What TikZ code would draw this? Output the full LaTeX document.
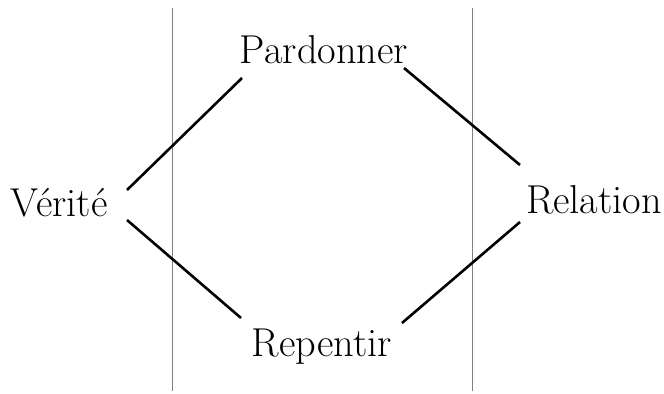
\documentclass[tikz,border=0pt]{standalone}
\begin{document}
\begin{tikzpicture}[x=1bp,y=-1bp,
  word/.style={anchor=base,inner sep=0pt,font=\fontsize{40.5}{44}\selectfont},
  link/.style={line width=2.6bp,black},
  divider/.style={line width=0.8bp,gray}]
\useasboundingbox[fill=white] (0,0) rectangle (664,393);
\draw[divider] (172,8) -- (172,391);
\draw[divider] (472,8) -- (472,391);
\node[word] (pardonner) at (324,63) {Pardonner};
\node[word] (verite) at (59,216) {Vérité};
\node[word] (relation) at (594,213) {Relation};
\node[word] (repentir) at (322,356) {Repentir};
\draw[link] ([shift={(68,-26)}]verite.base) -- ([shift={(-82,15)}]pardonner.base);
\draw[link] ([shift={(80,5)}]pardonner.base) -- ([shift={(-74,-48)}]relation.base);
\draw[link] ([shift={(68,4)}]verite.base) -- ([shift={(-81,-38)}]repentir.base);
\draw[link] ([shift={(-74,9)}]relation.base) -- ([shift={(80,-33)}]repentir.base);
\end{tikzpicture}
\end{document}
